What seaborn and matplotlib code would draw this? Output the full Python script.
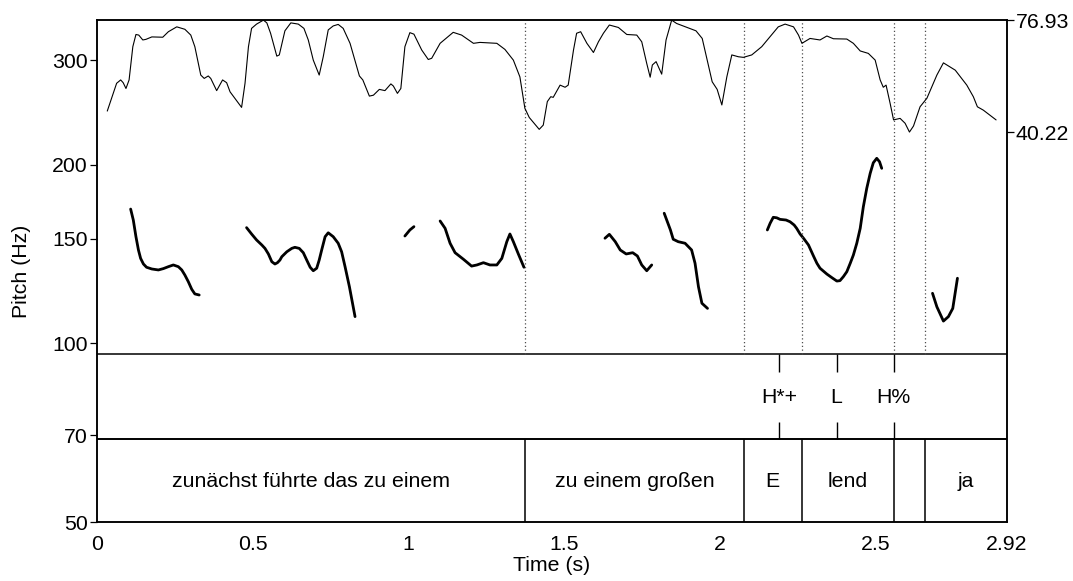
import numpy as np
import pandas as pd
import matplotlib
matplotlib.use("Agg")
import matplotlib.pyplot as plt
import seaborn as sns
from matplotlib.ticker import FixedLocator, FixedFormatter, NullLocator

sns.set_theme(style="white")
plt.rcParams['font.family'] = ['Liberation Sans', 'DejaVu Sans']
plt.rcParams['text.color'] = 'black'
plt.rcParams['axes.labelcolor'] = 'black'
plt.rcParams['xtick.color'] = 'black'
plt.rcParams['ytick.color'] = 'black'

# ---------------- data ----------------
# Intensity contour (dB), right axis
int_t = [0.034, 0.064, 0.077, 0.085, 0.094, 0.104, 0.116, 0.126, 0.135, 0.148, 0.158, 0.177, 0.212,
         0.230, 0.257, 0.283, 0.302, 0.315, 0.334, 0.345, 0.358, 0.366, 0.385, 0.404, 0.417, 0.428,
         0.465, 0.476, 0.487, 0.497, 0.513, 0.535, 0.546, 0.558, 0.578, 0.586, 0.604, 0.623, 0.647,
         0.665, 0.679, 0.695, 0.714, 0.727, 0.743, 0.759, 0.775, 0.791, 0.813, 0.843, 0.854, 0.875,
         0.888, 0.907, 0.925, 0.944, 0.952, 0.965, 0.976, 0.989, 1.005, 1.018, 1.043, 1.064, 1.075,
         1.102, 1.144, 1.171, 1.209, 1.230, 1.284, 1.310, 1.337, 1.358, 1.374, 1.388, 1.420, 1.433,
         1.446, 1.457, 1.465, 1.487, 1.503, 1.513, 1.530, 1.540, 1.553, 1.573, 1.594, 1.610, 1.626,
         1.645, 1.674, 1.701, 1.733, 1.749, 1.765, 1.776, 1.783, 1.795, 1.813, 1.827, 1.845, 1.861,
         1.923, 1.943, 1.959, 1.975, 1.991, 2.006, 2.022, 2.038, 2.059, 2.075, 2.102, 2.134, 2.161,
         2.187, 2.209, 2.236, 2.252, 2.263, 2.289, 2.321, 2.343, 2.364, 2.407, 2.428, 2.450, 2.476,
         2.498, 2.514, 2.524, 2.533, 2.546, 2.557, 2.578, 2.594, 2.608, 2.621, 2.642, 2.664, 2.696,
         2.717, 2.755, 2.792, 2.813, 2.826, 2.845, 2.886]
int_db = [47.1, 56.2, 57.3, 56.4, 54.5, 57.3, 68.2, 72.2, 72.0, 70.4, 70.6, 71.4, 71.3,
          73.1, 74.7, 73.9, 72.0, 68.2, 58.9, 57.8, 58.6, 57.8, 53.8, 57.3, 56.4, 53.4,
          48.3, 56.2, 68.2, 74.2, 75.6, 76.9, 76.0, 72.6, 65.1, 65.5, 73.4, 76.0, 75.6,
          74.2, 70.4, 63.8, 58.9, 64.9, 73.7, 75.0, 75.5, 74.2, 69.3, 58.6, 57.3, 52.0,
          52.3, 54.2, 53.8, 56.0, 55.3, 52.9, 54.5, 68.2, 72.8, 72.3, 67.1, 64.0, 64.4,
          69.3, 72.9, 72.0, 69.3, 69.6, 69.3, 67.3, 63.8, 58.3, 48.0, 45.0, 41.1, 42.5,
          50.2, 51.8, 51.6, 55.6, 54.9, 55.6, 67.1, 72.6, 73.1, 69.3, 66.3, 69.8, 72.6,
          75.3, 74.5, 72.2, 72.0, 69.8, 62.7, 58.2, 62.2, 63.3, 59.2, 70.4, 76.9, 75.8,
          73.4, 70.9, 63.8, 56.7, 54.2, 49.1, 58.3, 65.5, 64.9, 64.7, 65.5, 68.2, 71.5,
          74.7, 75.6, 74.7, 72.0, 69.3, 70.9, 70.4, 71.7, 70.8, 70.7, 69.3, 66.8, 66.0,
          63.8, 57.3, 54.9, 55.6, 49.6, 44.2, 44.7, 43.1, 40.22, 42.2, 48.5, 51.3, 58.9,
          62.9, 60.5, 55.6, 51.8, 48.5, 47.4, 44.2]

# Pitch contour (Hz), voiced stretches
pitch_seg1_t = [0.109, 0.1175, 0.126, 0.134, 0.141, 0.150, 0.160, 0.177, 0.198, 0.214, 0.230, 0.246,
                0.262, 0.273, 0.283, 0.294, 0.305, 0.315, 0.329]
pitch_seg1_f = [168.3, 161.3, 151.2, 143.6, 139.0, 136.0, 134.3, 133.4, 132.9, 133.6, 134.6, 135.5,
                134.6, 132.9, 130.3, 127.0, 123.3, 121.1, 120.6]
pitch_seg2_t = [0.481, 0.497, 0.513, 0.530, 0.540, 0.551, 0.562, 0.572, 0.580, 0.588, 0.594, 0.610,
                0.626, 0.636, 0.650, 0.663, 0.674, 0.685, 0.695, 0.706, 0.714, 0.722, 0.733, 0.743,
                0.759, 0.775, 0.786, 0.797, 0.811, 0.829]
pitch_seg2_f = [156.6, 152.8, 149.3, 146.4, 144.5, 141.4, 137.2, 136.0, 136.7, 138.1, 139.9, 142.6,
                144.5, 145.1, 144.5, 142.1, 138.1, 134.3, 132.5, 133.8, 138.1, 143.6, 151.2, 153.5,
                151.2, 147.4, 142.6, 134.6, 124.5, 110.9]
pitch_seg3_t = [0.989, 1.005, 1.018]
pitch_seg3_f = [151.6, 155.2, 157.2]
pitch_seg4_t = [1.102, 1.118, 1.134, 1.150, 1.177, 1.203, 1.220, 1.241, 1.262, 1.284, 1.300, 1.316,
                1.326, 1.337, 1.353, 1.371]
pitch_seg4_f = [160.7, 156.2, 147.4, 142.1, 138.5, 134.9, 135.5, 136.7, 135.5, 135.5, 139.0, 148.3,
                152.8, 148.3, 141.4, 134.3]
pitch_seg5_t = [1.631, 1.645, 1.664, 1.680, 1.699, 1.720, 1.735, 1.749, 1.765, 1.781]
pitch_seg5_f = [150.3, 152.6, 148.3, 143.6, 141.4, 142.1, 140.3, 135.5, 132.5, 135.5]
pitch_seg6_t = [1.821, 1.841, 1.850, 1.866, 1.888, 1.909, 1.920, 1.931, 1.942, 1.960]
pitch_seg6_f = [165.6, 155.2, 149.7, 148.3, 147.4, 143.6, 136.4, 124.5, 116.8, 114.5]
pitch_seg7_t = [2.152, 2.161, 2.171, 2.182, 2.193, 2.212, 2.225, 2.238, 2.246, 2.257, 2.268, 2.284,
                2.300, 2.311, 2.321, 2.343, 2.359, 2.375, 2.385, 2.396, 2.407, 2.418, 2.428, 2.439,
                2.450, 2.460, 2.471, 2.482, 2.492, 2.503, 2.512, 2.519]
pitch_seg7_f = [155.2, 159.3, 163.0, 162.7, 161.7, 161.3, 160.2, 158.2, 156.2, 152.8, 150.3, 146.4,
                140.3, 136.4, 133.8, 130.8, 129.0, 127.3, 127.5, 129.5, 132.0, 136.4, 140.8, 147.4,
                156.2, 169.8, 182.4, 193.3, 201.4, 204.9, 202.2, 197.1]
pitch_seg8_t = [2.682, 2.696, 2.717, 2.733, 2.747, 2.762]
pitch_seg8_f = [121.4, 115.2, 109.0, 110.9, 114.5, 128.7]

# TextGrid: word tier intervals and tone tier points
word_bounds = [0.0, 1.3745, 2.077, 2.262, 2.557, 2.658, 2.92]
word_labels = ["zunächst führte das zu einem", "zu einem großen", "E", "lend", "", "ja"]
tone_times = [2.191, 2.374, 2.557]
tone_labels = ["H*+", "L", "H%"]

x_ticks = [0, 0.5, 1, 1.5, 2, 2.5, 2.92]
x_ticklabels = ["0", "0.5", "1", "1.5", "2", "2.5", "2.92"]
y_ticks = [50, 70, 100, 150, 200, 300]
y_ticklabels = ["50", "70", "100", "150", "200", "300"]
int_ticks = [40.22, 76.93]
int_ticklabels = ["40.22", "76.93"]

# ---------------- layout constants ----------------
T_MAX = 2.92
F_MIN, F_MAX = 50.0, 350.3
TIER_TOP, TIER_MID = 95.75, 69.0
DB_MIN, DB_MAX = -87.6, 76.93
FS = 15.3

pitch_df = pd.concat([
    pd.DataFrame({"t": t, "f": f, "seg": i})
    for i, (t, f) in enumerate([
        (pitch_seg1_t, pitch_seg1_f), (pitch_seg2_t, pitch_seg2_f), (pitch_seg3_t, pitch_seg3_f),
        (pitch_seg4_t, pitch_seg4_f), (pitch_seg5_t, pitch_seg5_f), (pitch_seg6_t, pitch_seg6_f),
        (pitch_seg7_t, pitch_seg7_f), (pitch_seg8_t, pitch_seg8_f)])
], ignore_index=True)
int_df = pd.DataFrame({"t": int_t, "db": int_db})

fig = plt.figure(figsize=(10.73, 5.81), dpi=100)
ax = fig.add_axes([0.0901, 0.1015, 0.8481, 0.8640])
ax.set_yscale("log")
ax.set_xlim(0, T_MAX)
ax.set_ylim(F_MIN, F_MAX)

sns.lineplot(data=pitch_df, x="t", y="f", units="seg", estimator=None, sort=False,
             color="black", lw=2.0, ax=ax, legend=False)
for ln in ax.lines:
    ln.set_solid_joinstyle("round")
    ln.set_solid_capstyle("round")

ax2 = ax.twinx()
sns.lineplot(data=int_df, x="t", y="db", estimator=None, sort=False,
             color="black", lw=0.8, ax=ax2, legend=False)
ax2.set_ylim(DB_MIN, DB_MAX)
ax2.set_xlim(0, T_MAX)

# tiers
ax.axhline(TIER_TOP, color="black", lw=1.1)
ax.axhline(TIER_MID, color="black", lw=1.4)
inner = word_bounds[1:-1]
ax.vlines(inner, F_MIN, TIER_MID, color="black", lw=1.1)
ax.vlines(inner, TIER_TOP, F_MAX, color="0.3", lw=0.9, linestyles=(0, (1, 2)))
ax.vlines(tone_times, 89.6, TIER_TOP, color="black", lw=1.0)
ax.vlines(tone_times, TIER_MID, 73.6, color="black", lw=1.0)
for tt, lab in zip(tone_times, tone_labels):
    ax.text(tt, 79.2, lab, ha="center", va="baseline", fontsize=FS, color="black")
for a, b, lab in zip(word_bounds[:-1], word_bounds[1:], word_labels):
    ax.text((a + b) / 2, 57.3, lab, ha="center", va="baseline", fontsize=FS, color="black")

# axes styling
ax.yaxis.set_major_locator(FixedLocator(y_ticks))
ax.yaxis.set_major_formatter(FixedFormatter(y_ticklabels))
ax.yaxis.set_minor_locator(NullLocator())
ax.set_xticks(x_ticks)
ax.set_xticklabels(x_ticklabels)
ax2.set_yticks(int_ticks)
ax2.set_yticklabels(int_ticklabels)
for a in (ax, ax2):
    a.tick_params(axis="both", direction="out", length=5, width=0.9, color="black",
                  labelsize=FS, pad=1.5, labelcolor="black")
    for s in a.spines.values():
        s.set_color("black")
        s.set_linewidth(1.1)
    a.grid(False)
ax.tick_params(axis="x", pad=5, length=4)
ax.set_xlabel("Time (s)", fontsize=FS, labelpad=2, color="black")
ax.set_ylabel("Pitch (Hz)", fontsize=FS, labelpad=15, color="black")
ax2.set_ylabel("")

fig.savefig("out.png", dpi=100, facecolor="white")
